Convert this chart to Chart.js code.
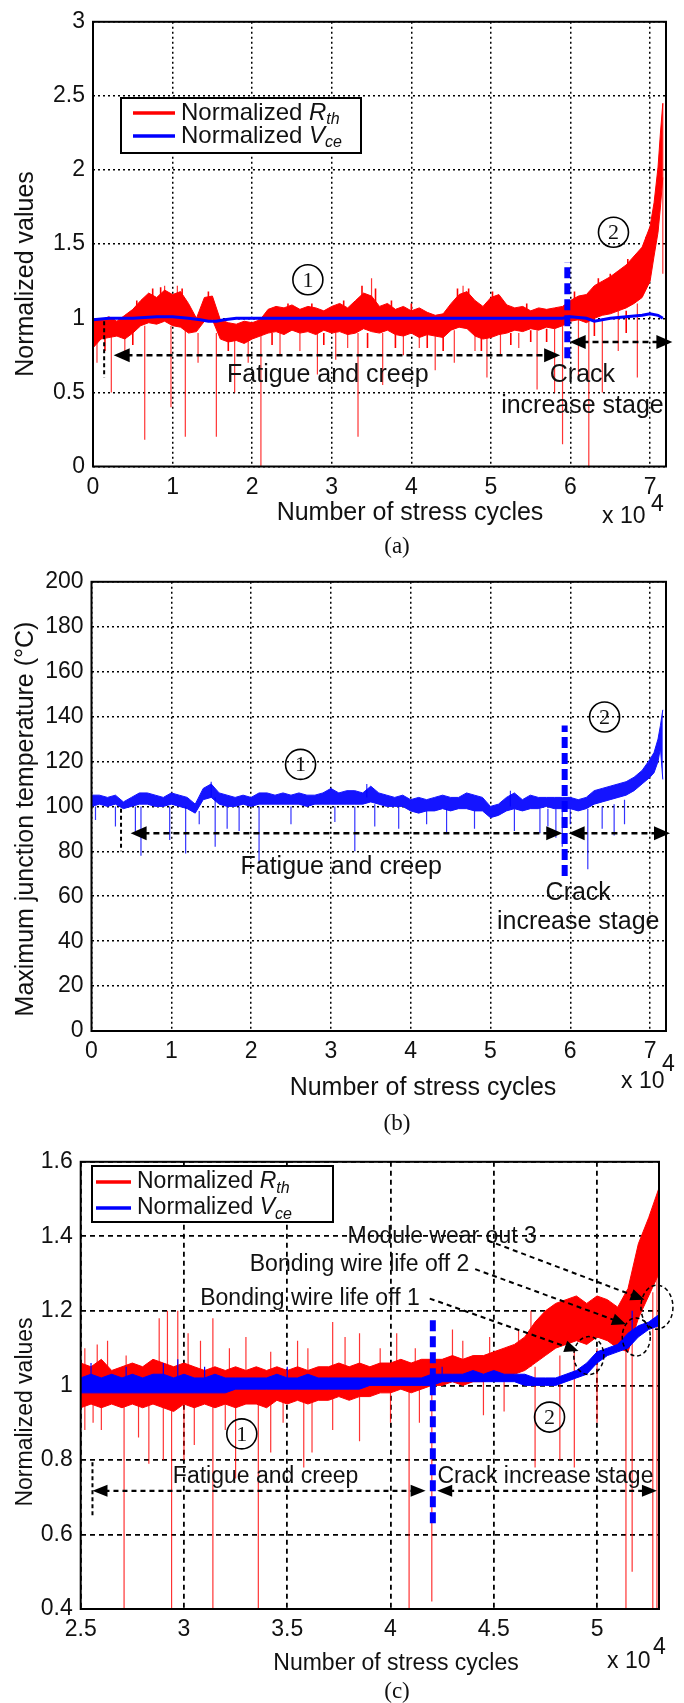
<!DOCTYPE html>
<html>
<head>
<meta charset="utf-8">
<script src="https://cdn.jsdelivr.net/npm/chart.js@4.4.0/dist/chart.umd.min.js"></script>
<style>
  html, body { margin: 0; padding: 0; background: #fff; }
  #wrap { position: relative; width: 684px; height: 1703px; }
  canvas { position: absolute; left: 0; }
</style>
</head>
<body>
<div id="wrap">
  <canvas id="chartA" width="684" height="560" style="top:0px"></canvas>
  <canvas id="chartB" width="684" height="580" style="top:560px"></canvas>
  <canvas id="chartC" width="684" height="563" style="top:1140px"></canvas>
</div>
<script>
const FONT = '"Liberation Sans", Arial, Helvetica, sans-serif';
const SERIF = '"Liberation Serif", "Times New Roman", serif';
const INK = "#111";

// ---- (a) normalized Rth / Vce, cycles in units of 1e4 ----
const cycA = [0, 0.1, 0.2, 0.3, 0.4, 0.5, 0.6, 0.7, 0.8, 0.9,
  1.0, 1.1, 1.2, 1.3, 1.4, 1.5, 1.6, 1.7, 1.8, 1.9,
  2.0, 2.1, 2.2, 2.3, 2.4, 2.5, 2.6, 2.7, 2.8, 2.9,
  3.0, 3.1, 3.2, 3.3, 3.4, 3.5, 3.6, 3.7, 3.8, 3.9,
  4.0, 4.1, 4.2, 4.3, 4.4, 4.5, 4.6, 4.7, 4.8, 4.9,
  5.0, 5.1, 5.2, 5.3, 5.4, 5.5, 5.6, 5.7, 5.8, 5.9,
  6.0, 6.1, 6.2, 6.3, 6.4, 6.5, 6.6, 6.7, 6.8, 6.9,
  7.0, 7.05, 7.1, 7.13, 7.16];
const rthHiA = [1.00, 0.99, 1.01, 0.98, 1.02, 1.06, 1.12, 1.17, 1.14, 1.19,
  1.16, 1.18, 1.10, 1.00, 1.14, 1.15, 0.99, 0.97, 0.96, 0.98,
  0.97, 0.99, 1.06, 1.08, 1.07, 1.09, 1.06, 1.08, 1.07, 1.05,
  1.08, 1.10, 1.07, 1.12, 1.17, 1.15, 1.08, 1.10, 1.06, 1.08,
  1.05, 1.07, 1.04, 1.02, 1.03, 1.10, 1.16, 1.18, 1.12, 1.08,
  1.14, 1.16, 1.09, 1.07, 1.08, 1.05, 1.07, 1.06, 1.07, 1.08,
  1.12, 1.15, 1.16, 1.22, 1.25, 1.28, 1.32, 1.36, 1.42, 1.48,
  1.62, 1.78, 2.02, 2.25, 2.45];
const rthLoA = [0.80, 0.86, 0.87, 0.88, 0.86, 0.90, 0.95, 0.97, 0.96, 0.98,
  0.95, 0.94, 0.90, 0.91, 0.98, 0.99, 0.86, 0.84, 0.85, 0.83,
  0.86, 0.88, 0.90, 0.91, 0.89, 0.92, 0.90, 0.91, 0.89, 0.92,
  0.90, 0.91, 0.89, 0.90, 0.93, 0.91, 0.90, 0.92, 0.89, 0.88,
  0.90, 0.87, 0.89, 0.88, 0.87, 0.92, 0.94, 0.93, 0.88, 0.86,
  0.87, 0.89, 0.90, 0.92, 0.91, 0.93, 0.92, 0.94, 0.93, 0.95,
  0.98, 0.99, 0.97, 1.00, 1.02, 1.03, 1.05, 1.07, 1.10, 1.14,
  1.25, 1.42, 1.58, 1.75, 1.95];
// [cycle, top, bottom]
const rthSpikesA = [[0.05, 0.9, 0.7], [0.23, 0.9, 0.5], [0.4, 0.9, 0.75], [0.65, 0.95, 0.18],
  [0.9, 1.22, 1.0], [0.98, 0.95, 0.4], [1.06, 1.22, 1.0], [1.16, 0.95, 0.2], [1.32, 0.9, 0.7],
  [1.55, 0.9, 0.2], [1.78, 0.85, 0.5], [1.95, 0.85, 0.7], [2.11, 0.9, 0.0], [2.35, 0.9, 0.75],
  [2.6, 0.9, 0.78], [2.82, 0.9, 0.62], [3.05, 0.9, 0.72], [3.2, 0.9, 0.8], [3.33, 0.9, 0.2],
  [3.5, 1.27, 1.1], [3.64, 0.9, 0.55], [3.9, 0.9, 0.75], [4.1, 0.9, 0.8], [4.3, 0.9, 0.65],
  [4.54, 0.92, 0.7], [4.65, 1.22, 1.1], [4.8, 0.9, 0.78], [4.95, 0.88, 0.6], [5.12, 0.9, 0.75],
  [5.35, 0.9, 0.8], [5.58, 0.92, 0.52], [5.8, 0.93, 0.5], [5.9, 0.95, 0.15], [6.1, 1.0, 0.6],
  [6.23, 1.0, 0.0], [6.4, 1.0, 0.5], [6.6, 1.05, 0.78], [6.84, 1.1, 0.6], [7.16, 2.45, 1.3]];
// short excursions that roughen the band edges
const rthJitterA = [[0.15, 0.9, 0.78], [0.5, 0.92, 0.82], [0.55, 1.12, 1.0], [0.75, 1.2, 1.0],
  [0.85, 1.21, 1.0], [1.12, 1.2, 1.0], [1.45, 1.18, 1.0], [1.7, 0.86, 0.78], [2.25, 0.9, 0.82],
  [2.45, 1.1, 0.95], [2.75, 1.1, 0.95], [2.9, 0.9, 0.82], [3.15, 1.12, 0.95], [3.38, 1.22, 1.0],
  [3.45, 0.9, 0.8], [3.55, 1.2, 1.0], [3.75, 1.12, 1.0], [3.8, 0.9, 0.8], [4.0, 1.1, 1.0],
  [4.2, 0.9, 0.8], [4.4, 0.88, 0.78], [4.58, 1.2, 1.0], [4.72, 1.2, 1.0], [4.88, 0.88, 0.78],
  [5.02, 1.18, 1.0], [5.08, 1.15, 1.0], [5.25, 0.9, 0.82], [5.45, 1.1, 1.0], [5.5, 0.92, 0.84],
  [5.7, 0.93, 0.84], [6.05, 1.18, 1.05], [6.3, 1.0, 0.88], [6.35, 1.27, 1.1], [6.5, 1.3, 1.1],
  [6.7, 1.05, 0.9], [6.72, 1.4, 1.2], [6.95, 1.55, 1.3]];
const vceCycA = [0, 0.2, 0.5, 0.8, 1.0, 1.2, 1.35, 1.45, 1.55, 1.65, 1.8, 2.0, 2.5, 3.0, 3.5,
  4.0, 4.5, 5.0, 5.5, 5.9, 6.0, 6.2, 6.3, 6.5, 6.7, 6.9, 7.0, 7.1, 7.16];
const vceA = [0.99, 1.0, 1.0, 1.01, 1.01, 1.0, 0.99, 0.98, 0.98, 0.99, 1.0, 1.0, 1.0, 1.0, 1.0,
  1.0, 1.0, 1.0, 1.0, 1.0, 1.01, 1.0, 0.98, 1.0, 1.01, 1.02, 1.03, 1.02, 1.0];
const splitA = [5.96, 0.73, 1.38];

// ---- (b) maximum junction temperature ----
const cycB = cycA;
const tjHiB = [105, 105, 104, 105, 102, 104, 106, 106, 105, 104,
  106, 105, 104, 101, 108, 110, 106, 105, 104, 105,
  104, 106, 106, 105, 106, 105, 106, 105, 105, 106,
  108, 106, 107, 107, 106, 109, 106, 105, 104, 105,
  103, 104, 103, 104, 105, 104, 104, 106, 105, 104,
  100, 101, 104, 106, 103, 105, 104, 104, 104, 104,
  104, 103, 104, 107, 108, 109, 110, 111, 113, 116,
  121, 124, 130, 136, 143];
const tjLoB = [100, 101, 100, 101, 99, 100, 101, 101, 100, 100,
  101, 100, 99, 97, 103, 104, 101, 100, 100, 101,
  100, 101, 101, 101, 101, 101, 101, 100, 101, 101,
  101, 101, 101, 101, 101, 102, 101, 100, 100, 100,
  98, 97, 98, 98, 99, 98, 99, 99, 98, 98,
  95, 96, 98, 99, 98, 99, 99, 100, 99, 99,
  99, 98, 99, 101, 102, 103, 104, 105, 107, 110,
  113, 115, 120, 126, 112];
const tjSpikesB = [[0.05, 100, 94], [0.3, 100, 91], [0.55, 100, 88], [0.62, 100, 78], [0.98, 100, 85],
  [1.18, 100, 79], [1.35, 98, 92], [1.5, 111, 104], [1.55, 104, 82], [1.7, 100, 90], [1.85, 100, 89],
  [2.1, 100, 75], [2.5, 100, 92], [3.05, 100, 93], [3.3, 100, 80], [3.45, 110, 104], [3.55, 101, 91],
  [3.85, 100, 90], [4.2, 98, 92], [4.45, 99, 88], [4.8, 98, 90], [5.25, 107, 100], [5.3, 99, 89],
  [5.62, 99, 88], [5.72, 99, 91], [5.82, 99, 86], [5.9, 99, 82], [6.0, 99, 92], [6.22, 99, 72],
  [6.4, 100, 90], [6.55, 101, 87], [6.68, 103, 92]];
const splitB = [5.93, 69, 136];

// ---- (c) zoom on 2.5e4 .. 5.3e4 cycles ----
const cycC = [2.5, 2.55, 2.6, 2.65, 2.7, 2.75, 2.8, 2.85, 2.9, 2.95,
  3.0, 3.05, 3.1, 3.15, 3.2, 3.25, 3.3, 3.35, 3.4, 3.45,
  3.5, 3.55, 3.6, 3.65, 3.7, 3.75, 3.8, 3.85, 3.9, 3.95,
  4.0, 4.05, 4.1, 4.15, 4.2, 4.25, 4.3, 4.35, 4.4, 4.45,
  4.5, 4.55, 4.6, 4.65, 4.7, 4.75, 4.8, 4.85, 4.9, 4.95,
  5.0, 5.05, 5.1, 5.15, 5.2, 5.25, 5.3];
const rthHiC = [1.06, 1.05, 1.07, 1.04, 1.05, 1.06, 1.05, 1.07, 1.06, 1.05,
  1.06, 1.05, 1.04, 1.05, 1.04, 1.05, 1.04, 1.05, 1.04, 1.05,
  1.04, 1.05, 1.04, 1.05, 1.05, 1.06, 1.05, 1.06, 1.05, 1.06,
  1.06, 1.07, 1.06, 1.07, 1.07, 1.07, 1.08, 1.07, 1.08, 1.08,
  1.09, 1.10, 1.11, 1.13, 1.17, 1.20, 1.22, 1.23, 1.24, 1.22,
  1.24, 1.23, 1.21, 1.26, 1.38, 1.45, 1.53];
const rthLoC = [0.94, 0.95, 0.94, 0.95, 0.94, 0.95, 0.94, 0.95, 0.94, 0.93,
  0.95, 0.94, 0.95, 0.94, 0.95, 0.94, 0.95, 0.95, 0.94, 0.96,
  0.95, 0.96, 0.95, 0.96, 0.96, 0.97, 0.96, 0.97, 0.97, 0.98,
  0.98, 0.99, 0.98, 0.99, 1.00, 1.00, 1.01, 1.00, 1.01, 1.01,
  1.02, 1.02, 1.03, 1.04, 1.06, 1.08, 1.10, 1.11, 1.12, 1.11,
  1.13, 1.12, 1.10, 1.09, 1.18, 1.24, 1.30];
const rthSpikesC = [[2.52, 1.1, 0.88], [2.56, 1.0, 0.9], [2.58, 1.11, 1.0], [2.6, 1.0, 0.88], [2.63, 1.12, 1.0],
  [2.71, 1.0, 0.4], [2.72, 1.08, 1.0], [2.78, 1.0, 0.86], [2.83, 1.0, 0.79], [2.88, 1.18, 1.0],
  [2.9, 1.0, 0.8], [2.92, 1.2, 1.0], [2.94, 1.0, 0.4], [2.97, 1.2, 1.0], [3.0, 1.0, 0.8],
  [3.02, 1.14, 1.0], [3.05, 1.0, 0.84], [3.08, 1.12, 1.0], [3.14, 1.18, 0.4], [3.2, 1.0, 0.88],
  [3.22, 1.1, 1.0], [3.25, 1.0, 0.75], [3.3, 1.13, 1.0], [3.36, 1.0, 0.4], [3.42, 1.09, 0.82],
  [3.48, 1.0, 0.9], [3.55, 1.12, 1.0], [3.58, 1.0, 0.78], [3.6, 1.1, 1.0], [3.62, 1.0, 0.82],
  [3.72, 1.17, 0.88], [3.78, 1.13, 1.0], [3.85, 1.14, 0.85], [3.95, 1.1, 1.0], [4.0, 1.0, 0.9],
  [4.03, 1.14, 1.0], [4.09, 1.0, 0.4], [4.12, 1.1, 1.0], [4.14, 1.0, 0.9], [4.2, 1.0, 0.42],
  [4.3, 1.15, 1.02], [4.35, 1.12, 1.02], [4.45, 1.02, 0.92], [4.48, 1.13, 1.02], [4.55, 1.02, 0.93],
  [4.62, 1.15, 1.04], [4.68, 1.2, 1.05], [4.7, 1.05, 0.78], [4.82, 1.08, 0.8], [4.89, 1.1, 0.78],
  [5.0, 1.1, 0.9], [5.14, 1.1, 0.4], [5.17, 1.12, 0.5], [5.27, 1.25, 0.4], [5.29, 1.3, 0.4]];
const vceHiC = [1.02, 1.03, 1.02, 1.03, 1.02, 1.03, 1.02, 1.03, 1.03, 1.02,
  1.03, 1.02, 1.02, 1.03, 1.02, 1.02, 1.02, 1.02, 1.02, 1.03,
  1.02, 1.02, 1.03, 1.02, 1.02, 1.02, 1.02, 1.02, 1.02, 1.02,
  1.02, 1.02, 1.02, 1.02, 1.03, 1.03, 1.03, 1.03, 1.04, 1.03,
  1.04, 1.03, 1.03, 1.03, 1.02, 1.02, 1.02, 1.03, 1.04, 1.06,
  1.09, 1.10, 1.11, 1.14, 1.16, 1.17, 1.19];
const vceLoC = [0.98, 0.98, 0.98, 0.98, 0.98, 0.98, 0.98, 0.98, 0.98, 0.98,
  0.98, 0.98, 0.98, 0.98, 0.98, 0.99, 0.99, 0.99, 0.99, 0.99,
  0.99, 0.99, 0.99, 0.99, 0.99, 0.99, 0.99, 0.99, 1.00, 1.00,
  1.00, 1.00, 1.00, 1.00, 1.00, 1.01, 1.01, 1.01, 1.01, 1.01,
  1.01, 1.01, 1.01, 1.00, 1.00, 1.00, 1.00, 1.01, 1.02, 1.03,
  1.06, 1.08, 1.09, 1.10, 1.13, 1.15, 1.16];
const vceSpikesC = [[2.55, 1.06, 1.0], [2.72, 1.05, 1.0], [2.9, 1.06, 1.0], [2.97, 1.07, 1.0],
  [3.1, 1.05, 1.0], [3.5, 1.05, 1.0], [4.25, 1.05, 1.01], [5.17, 1.2, 1.12], [5.3, 1.19, 1.0]];
const splitC = [4.205, 0.63, 1.177];

const legendRows = [["Normalized ", "R", "th", "#ff0000"], ["Normalized ", "V", "ce", "#0000ff"]];

const RED = "#ff0000";
const BLUE = "#0000ff";

function pts(xs, ys) {
  return xs.map((x, i) => ({ x: x, y: ys[i] }));
}

function spikePts(list) {
  const out = [];
  list.forEach((s) => {
    out.push({ x: s[0], y: s[1] }, { x: s[0], y: s[2] }, { x: s[0], y: null });
  });
  return out;
}

function bandSets(xs, hi, lo, color, order) {
  return [
    { data: pts(xs, hi), borderColor: color, backgroundColor: color, borderWidth: 1, fill: "+1", order: order },
    { data: pts(xs, lo), borderColor: color, borderWidth: 1, fill: false, order: order },
  ];
}

function spikeSet(list, color, order, width) {
  return { data: spikePts(list), borderColor: color, borderWidth: width || 1.2, fill: false, spanGaps: false, order: order };
}

function splitSet(s) {
  return {
    data: [{ x: s[0], y: s[1] }, { x: s[0], y: s[2] }],
    borderColor: BLUE, borderWidth: 6, borderDash: [11, 5], fill: false, order: 0,
  };
}

function axis(min, max, step, size, isX, grid) {
  return {
    type: "linear", min: min, max: max,
    ticks: {
      stepSize: step, includeBounds: false, color: INK, maxRotation: 0, autoSkip: false,
      font: { family: FONT, size: 23 }, padding: isX ? 7 : 8,
      callback: (v) => String(Math.round(v * 100) / 100),
    },
    grid: { color: "#000", lineWidth: grid[2], drawTicks: false },
    border: { display: false, dash: [grid[0], grid[1]] },
    afterFit(s) {
      if (isX) s.height = size; else s.width = size;
    },
  };
}

// ---- drawing helpers for the decorations ----
function frame(chart) {
  const a = chart.chartArea, ctx = chart.ctx;
  ctx.save();
  ctx.strokeStyle = "#000";
  ctx.lineWidth = 2;
  ctx.setLineDash([]);
  ctx.strokeRect(a.left, a.top, a.right - a.left, a.bottom - a.top);
  ctx.restore();
}

function text(ctx, s, x, y, size, align) {
  ctx.save();
  ctx.fillStyle = INK;
  ctx.font = size + "px " + FONT;
  ctx.textAlign = align || "center";
  ctx.textBaseline = "middle";
  ctx.fillText(s, x, y);
  ctx.restore();
}

function yTitle(ctx, s, x, y, size) {
  ctx.save();
  ctx.translate(x, y);
  ctx.rotate(-Math.PI / 2);
  text(ctx, s, 0, 0, size);
  ctx.restore();
}

function power(ctx, x1, y1, x2, y2, size) {
  text(ctx, "x 10", x1, y1, size, "left");
  text(ctx, "4", x2, y2, size, "left");
}

function caption(ctx, s, x, y) {
  ctx.save();
  ctx.fillStyle = INK;
  ctx.font = "23px " + SERIF;
  ctx.textAlign = "center";
  ctx.textBaseline = "middle";
  ctx.fillText(s, x, y);
  ctx.restore();
}

function circled(ctx, x, y, n) {
  ctx.save();
  ctx.strokeStyle = "#000";
  ctx.lineWidth = 1.6;
  ctx.setLineDash([]);
  ctx.beginPath();
  ctx.arc(x, y, 15, 0, Math.PI * 2);
  ctx.stroke();
  ctx.fillStyle = INK;
  ctx.font = "22px " + SERIF;
  ctx.textAlign = "center";
  ctx.textBaseline = "middle";
  ctx.fillText(n, x, y + 1);
  ctx.restore();
}

function head(ctx, x, y, ang, L, W) {
  const c = Math.cos(ang), s = Math.sin(ang);
  ctx.beginPath();
  ctx.moveTo(x, y);
  ctx.lineTo(x - L * c + W * s, y - L * s - W * c);
  ctx.lineTo(x - L * c - W * s, y - L * s + W * c);
  ctx.closePath();
  ctx.fill();
}

function arrow(ctx, x1, y1, x2, y2, both, lw, dash, L, W) {
  const ang = Math.atan2(y2 - y1, x2 - x1);
  const c = Math.cos(ang), s = Math.sin(ang);
  ctx.save();
  ctx.strokeStyle = "#000";
  ctx.fillStyle = "#000";
  ctx.lineWidth = lw;
  ctx.setLineDash(dash);
  ctx.beginPath();
  ctx.moveTo(both ? x1 + c * L * 0.8 : x1, both ? y1 + s * L * 0.8 : y1);
  ctx.lineTo(x2 - c * L * 0.8, y2 - s * L * 0.8);
  ctx.stroke();
  ctx.setLineDash([]);
  head(ctx, x2, y2, ang, L, W);
  if (both) head(ctx, x1, y1, ang + Math.PI, L, W);
  ctx.restore();
}

function dashLine(ctx, x1, y1, x2, y2, lw, dash) {
  ctx.save();
  ctx.strokeStyle = "#000";
  ctx.lineWidth = lw;
  ctx.setLineDash(dash);
  ctx.beginPath();
  ctx.moveTo(x1, y1);
  ctx.lineTo(x2, y2);
  ctx.stroke();
  ctx.restore();
}

function ellipse(ctx, x, y, rx, ry) {
  ctx.save();
  ctx.strokeStyle = "#000";
  ctx.lineWidth = 1.5;
  ctx.setLineDash([4, 3]);
  ctx.beginPath();
  ctx.ellipse(x, y, rx, ry, 0, 0, Math.PI * 2);
  ctx.stroke();
  ctx.restore();
}

function legendBox(ctx, box, lx1, lx2, tx, rowsY, size) {
  ctx.save();
  ctx.fillStyle = "#fff";
  ctx.fillRect(box[0], box[1], box[2] - box[0], box[3] - box[1]);
  ctx.strokeStyle = "#000";
  ctx.lineWidth = 2;
  ctx.setLineDash([]);
  ctx.strokeRect(box[0], box[1], box[2] - box[0], box[3] - box[1]);
  legendRows.forEach((r, i) => {
    const y = rowsY[i];
    ctx.strokeStyle = r[3];
    ctx.lineWidth = 3.5;
    ctx.beginPath();
    ctx.moveTo(lx1, y);
    ctx.lineTo(lx2, y);
    ctx.stroke();
    ctx.fillStyle = INK;
    ctx.textAlign = "left";
    ctx.textBaseline = "middle";
    ctx.font = size + "px " + FONT;
    ctx.fillText(r[0], tx, y);
    let x = tx + ctx.measureText(r[0]).width;
    ctx.font = "italic " + size + "px " + FONT;
    ctx.fillText(r[1], x, y);
    x += ctx.measureText(r[1]).width;
    ctx.font = "italic " + Math.round(size * 0.68) + "px " + FONT;
    ctx.fillText(r[2], x, y + size * 0.28);
  });
  ctx.restore();
}

function scalers(chart) {
  const sx = chart.scales.x, sy = chart.scales.y;
  return [(v) => sx.getPixelForValue(v), (v) => sy.getPixelForValue(v)];
}

const decoA = {
  id: "decoA",
  afterDraw(chart) {
    const ctx = chart.ctx;
    const [X, Y] = scalers(chart);
    frame(chart);
    legendBox(ctx, [121, 98, 361, 153], 133, 175, 181, [113, 136], 24);
    circled(ctx, X(2.7), Y(1.26), "1");
    circled(ctx, X(6.54), Y(1.58), "2");
    dashLine(ctx, X(0.14), Y(0.98), X(0.14), Y(0.6), 2, [4, 3]);
    arrow(ctx, X(0.26), Y(0.75), X(5.87), Y(0.75), true, 2.5, [6, 4], 16, 7);
    arrow(ctx, X(5.99), Y(0.84), X(7.28), Y(0.84), true, 2.5, [6, 4], 16, 7);
    text(ctx, "Fatigue and creep", X(2.95), Y(0.617), 25);
    text(ctx, "Crack", X(6.15), Y(0.617), 25);
    text(ctx, "increase stage", X(6.15), Y(0.41), 25);
    yTitle(ctx, "Normalized values", 26, 274, 25);
    text(ctx, "Number of stress cycles", 410, 513, 25);
    power(ctx, 602, 517, 651, 505, 23);
    caption(ctx, "(a)", 397, 547);
  },
};

const decoB = {
  id: "decoB",
  afterDraw(chart) {
    const ctx = chart.ctx;
    const [X, Y] = scalers(chart);
    frame(chart);
    circled(ctx, X(2.62), Y(118.7), "1");
    circled(ctx, X(6.43), Y(139.8), "2");
    dashLine(ctx, X(0.37), Y(99), X(0.37), Y(80), 2, [4, 3]);
    arrow(ctx, X(0.49), Y(88), X(5.9), Y(88), true, 2.5, [6, 4], 16, 7);
    arrow(ctx, X(5.98), Y(88), X(7.25), Y(88), true, 2.5, [6, 4], 16, 7);
    text(ctx, "Fatigue and creep", X(3.13), Y(73), 25);
    text(ctx, "Crack", X(6.1), Y(61.5), 25);
    text(ctx, "increase stage", X(6.1), Y(48.3), 25);
    yTitle(ctx, "Maximum junction temperature (\u00B0C)", 26, 259, 25);
    text(ctx, "Number of stress cycles", 423, 528, 25);
    power(ctx, 621, 522, 662, 505, 23);
    caption(ctx, "(b)", 397, 564);
  },
};

const decoC = {
  id: "decoC",
  afterDraw(chart) {
    const ctx = chart.ctx;
    const [X, Y] = scalers(chart);
    frame(chart);
    legendBox(ctx, [92, 26, 333, 82], 96, 131, 137, [42, 68], 23);
    circled(ctx, X(3.28), Y(0.87), "1");
    circled(ctx, X(4.77), Y(0.915), "2");
    dashLine(ctx, X(2.557), Y(0.794), X(2.557), Y(0.646), 2, [4, 3]);
    arrow(ctx, X(2.557), Y(0.717), X(4.17), Y(0.717), true, 2.2, [5, 4], 15, 6);
    arrow(ctx, X(4.226), Y(0.717), X(5.29), Y(0.717), true, 2.2, [5, 4], 15, 6);
    text(ctx, "Fatigue and creep", X(3.395), Y(0.754), 23);
    text(ctx, "Crack increase stage", X(4.75), Y(0.754), 23);
    text(ctx, "Module wear out 3", X(4.25), Y(1.40), 23);
    text(ctx, "Bonding wire life off 2", X(3.85), Y(1.325), 23);
    text(ctx, "Bonding wire life off 1", X(3.61), Y(1.233), 23);
    arrow(ctx, X(4.47), Y(1.389), X(5.23), Y(1.23), false, 2, [5, 4], 14, 6);
    arrow(ctx, X(4.41), Y(1.312), X(5.14), Y(1.164), false, 2, [5, 4], 14, 6);
    arrow(ctx, X(4.19), Y(1.233), X(4.91), Y(1.092), false, 2, [5, 4], 14, 6);
    ellipse(ctx, X(4.96), Y(1.08), 15, 19);
    ellipse(ctx, X(5.19), Y(1.13), 14, 19);
    ellipse(ctx, X(5.29), Y(1.21), 16, 22);
    yTitle(ctx, "Normalized values", 26, 272, 23);
    text(ctx, "Number of stress cycles", 396, 524, 23);
    power(ctx, 607, 522, 653, 508, 23);
    caption(ctx, "(c)", 397, 552);
  },
};

function makeChart(id, datasets, xAx, yAx, pad, deco) {
  return new Chart(document.getElementById(id), {
    type: "line",
    data: { datasets: datasets },
    options: {
      responsive: false,
      animation: false,
      events: [],
      layout: { padding: pad, autoPadding: false },
      elements: { point: { radius: 0 }, line: { tension: 0, borderCapStyle: "butt" } },
      plugins: { legend: { display: false }, tooltip: { enabled: false } },
      scales: { x: xAx, y: yAx },
    },
    plugins: [deco],
  });
}

document.addEventListener("DOMContentLoaded", () => {
  const dotted = [2, 3, 1.5];
  const dashed = [5, 4, 1.8];

  makeChart(
    "chartA",
    [splitSet(splitA),
      { data: pts(vceCycA, vceA), borderColor: BLUE, borderWidth: 3, fill: false, order: 1 },
      spikeSet(rthSpikesA, "rgba(255,0,0,0.8)", 3),
      spikeSet(rthJitterA, RED, 3, 1.6)]
      .concat(bandSets(cycA, rthHiA, rthLoA, RED, 4)),
    axis(0, 7.2, 1, 93.5, true, dotted),
    axis(0, 3, 0.5, 93, false, dotted),
    { top: 16.5, right: 18, left: 0, bottom: 0 },
    decoA
  );

  makeChart(
    "chartB",
    [splitSet(splitB), spikeSet(tjSpikesB, "rgba(0,0,255,0.8)", 2)]
      .concat(bandSets(cycB, tjHiB, tjLoB, "#1414ff", 3)),
    axis(0, 7.2, 1, 109, true, dotted),
    axis(0, 200, 20, 91.5, false, dotted),
    { top: 16, right: 18, left: 0, bottom: 0 },
    decoB
  );

  makeChart(
    "chartC",
    [splitSet(splitC), spikeSet(vceSpikesC, BLUE, 1)]
      .concat(bandSets(cycC, vceHiC, vceLoC, BLUE, 2))
      .concat([spikeSet(rthSpikesC, "rgba(255,0,0,0.8)", 3)])
      .concat(bandSets(cycC, rthHiC, rthLoC, RED, 4)),
    axis(2.5, 5.3, 0.5, 94, true, dashed),
    axis(0.4, 1.6, 0.2, 80.7, false, dashed),
    { top: 15, right: 25, left: 0, bottom: 0 },
    decoC
  );
});
</script>
</body>
</html>
